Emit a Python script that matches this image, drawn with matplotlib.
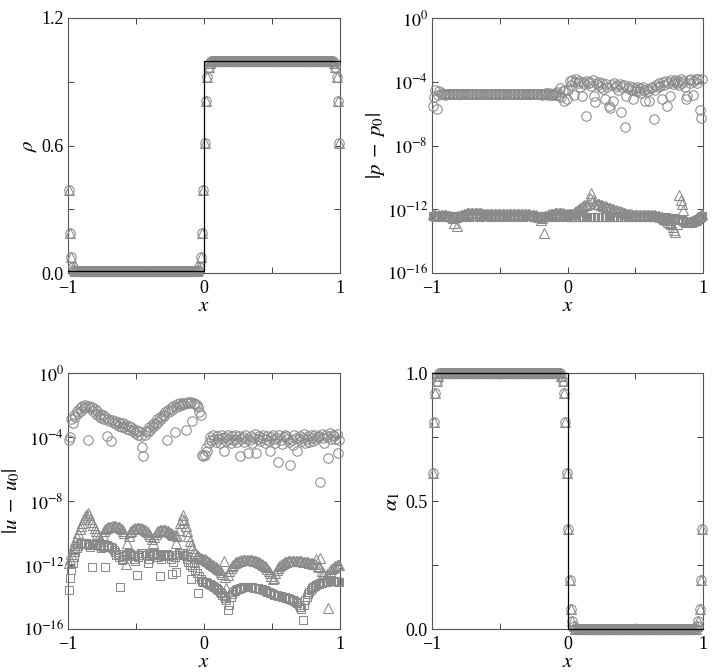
import numpy as np
import matplotlib
matplotlib.use("Agg")
import matplotlib.pyplot as plt

plt.rcParams['font.family'] = ['Liberation Serif', 'DejaVu Serif']
plt.rcParams['mathtext.fontset'] = 'stix'

# ---------------- data ----------------
n_cells = 200
x = np.arange(n_cells) * 0.01 - 0.995          # cell centres on [-1, 1]

# density profile (interface at x=0 and x=+-1, periodic)
rho_lo, rho_hi = 0.01, 1.0
rho_edge_left = [0.39, 0.19, 0.077, 0.03, 0.013]
rho_mid = [0.013, 0.03, 0.077, 0.19, 0.39, 0.61, 0.81, 0.923, 0.97, 0.99]
rho_edge_right = [0.99, 0.97, 0.923, 0.81, 0.61]

# volume fraction profile
alpha_hi, alpha_lo = 1.0, 0.0
alpha_edge_left = [0.61, 0.81, 0.923, 0.97, 0.99]
alpha_mid = [0.99, 0.97, 0.923, 0.81, 0.61, 0.39, 0.19, 0.077, 0.03, 0.01]
alpha_edge_right = [0.01, 0.03, 0.077, 0.19, 0.39]

# exact solution (step)
exact_x = [-1, 0, 0, 1]
exact_rho = [0.01, 0.01, 1.0, 1.0]
exact_alpha = [1.0, 1.0, 0.0, 0.0]

# log10 |p - p0|, circles
p_circ_log = [
    -5.55, -4.95, -4.5, -5.7, -4.85, -4.6, -4.75, -4.7, -4.75, -4.8,
    -4.75, -4.78, -4.74, -4.77, -4.76, -4.77, -4.78, -4.76, -4.77, -4.78,
    -4.77, -4.76, -4.77, -4.78, -4.77, -4.76, -4.77, -4.77, -4.78, -4.77,
    -4.76, -4.77, -4.78, -4.77, -4.76, -4.77, -4.77, -4.78, -4.77, -4.76,
    -4.77, -4.78, -4.77, -4.76, -4.77, -4.77, -4.78, -4.77, -4.76, -4.77,
    -4.78, -4.77, -4.76, -4.77, -4.77, -4.78, -4.77, -4.76, -4.77, -4.78,
    -4.77, -4.76, -4.77, -4.78, -4.77, -4.76, -4.77, -4.77, -4.78, -4.77,
    -4.76, -4.77, -4.78, -4.77, -4.76, -4.77, -4.77, -4.78, -4.77, -4.76,
    -4.75, -4.8, -4.74, -4.78, -4.72, -4.8, -4.7, -4.82, -4.75, -4.8,
    -4.7, -4.85, -4.65, -4.9, -4.4, -4.95, -4.6, -5.23, -4.5, -5.1,
    -4.5, -3.95, -4.2, -3.9, -4.8, -4.0, -3.85, -4.1, -3.95, -4.3,
    -4.9, -4.0, -4.15, -6.17, -3.95, -4.1, -4.0, -4.25, -3.9, -4.9,
    -5.3, -4.05, -4.2, -4.0, -4.3, -4.1, -4.45, -5.1, -4.15, -4.3,
    -5.5, -5.65, -4.2, -5.23, -4.1, -4.35, -4.2, -4.5, -4.15, -5.92,
    -4.3, -4.2, -6.84, -4.9, -4.4, -4.25, -4.5, -4.35, -5.1, -4.45,
    -4.6, -4.3, -4.55, -4.4, -4.7, -4.35, -4.5, -5.2, -4.45, -4.6,
    -5.2, -4.4, -4.3, -6.34, -4.5, -4.2, -4.35, -4.1, -4.25, -5.1,
    -4.0, -4.2, -3.95, -5.55, -4.1, -4.9, -3.9, -4.15, -4.0, -3.9,
    -4.1, -3.95, -4.2, -3.85, -4.05, -3.95, -4.3, -5.1, -4.9, -3.9,
    -4.05, -3.85, -4.8, -3.95, -3.8, -4.1, -3.85, -5.75, -6.27, -3.8,
]

# log10 |p - p0|, triangles
p_tri_log = [
    -12.3, -12.35, -12.38, -12.4, -12.4, -12.38, -12.36, -12.35, -12.35, -12.36,
    -12.38, -12.4, -12.42, -12.45, -12.5, -12.55, -12.86, -12.5, -13.07, -12.45,
    -12.4, -12.36, -12.33, -12.3, -12.28, -12.26, -12.25, -12.24, -12.23, -12.22,
    -12.22, -12.22, -12.22, -12.23, -12.24, -12.25, -12.26, -12.27, -12.28, -12.29,
    -12.3, -12.3, -12.31, -12.31, -12.31, -12.31, -12.3, -12.3, -12.29, -12.29,
    -12.28, -12.28, -12.28, -12.28, -12.28, -12.29, -12.29, -12.3, -12.3, -12.3,
    -12.3, -12.31, -12.31, -12.31, -12.31, -12.31, -12.31, -12.31, -12.31, -12.31,
    -12.32, -12.32, -12.33, -12.34, -12.35, -12.37, -12.39, -12.42, -12.46, -12.5,
    -12.65, -12.55, -13.5, -12.45, -12.4, -12.35, -12.32, -12.3, -12.28, -12.27,
    -12.26, -12.25, -12.25, -12.25, -12.25, -12.25, -12.26, -12.27, -12.28, -12.3,
    -12.3, -12.3, -12.3, -12.28, -12.25, -12.2, -12.14, -12.07, -12.0, -11.93,
    -11.86, -11.8, -11.75, -11.71, -11.68, -11.66, -11.3, -11.0, -11.45, -11.66,
    -11.66, -11.67, -11.68, -11.7, -11.72, -11.74, -11.77, -11.8, -11.83, -11.86,
    -11.9, -11.93, -11.96, -11.99, -12.02, -12.05, -12.08, -12.11, -12.14, -12.17,
    -12.2, -12.23, -12.25, -12.27, -12.29, -12.31, -12.32, -12.33, -12.34, -12.35,
    -12.35, -12.35, -12.35, -12.35, -12.35, -12.35, -12.35, -12.35, -12.35, -12.35,
    -12.35, -12.36, -12.37, -12.38, -12.39, -12.4, -12.42, -12.44, -12.46, -12.5,
    -12.55, -12.6, -12.65, -12.7, -12.78, -12.85, -12.95, -13.1, -13.3, -13.45,
    -12.9, -12.6, -11.1, -11.4, -11.7, -12.05, -12.7, -12.75, -12.78, -12.8,
    -12.8, -12.78, -12.75, -12.7, -12.65, -12.58, -12.5, -12.42, -12.35, -12.3,
]

# log10 |p - p0|, squares
p_sq_log = [
    -12.44, -12.45, -12.46, -12.46, -12.45, -12.45, -12.44, -12.44, -12.45, -12.45,
    -12.46, -12.46, -12.45, -12.45, -12.44, -12.44, -12.45, -12.45, -12.46, -12.46,
    -12.45, -12.45, -12.44, -12.44, -12.45, -12.45, -12.46, -12.46, -12.45, -12.45,
    -12.44, -12.44, -12.45, -12.45, -12.46, -12.46, -12.45, -12.45, -12.44, -12.44,
    -12.45, -12.45, -12.46, -12.46, -12.45, -12.45, -12.44, -12.44, -12.45, -12.45,
    -12.46, -12.46, -12.45, -12.45, -12.44, -12.44, -12.45, -12.45, -12.46, -12.46,
    -12.45, -12.45, -12.44, -12.44, -12.45, -12.45, -12.46, -12.46, -12.45, -12.45,
    -12.44, -12.44, -12.45, -12.45, -12.46, -12.46, -12.45, -12.45, -12.44, -12.44,
    -12.45, -12.45, -12.46, -12.46, -12.45, -12.45, -12.44, -12.44, -12.45, -12.45,
    -12.46, -12.46, -12.45, -12.45, -12.44, -12.44, -12.45, -12.45, -12.46, -12.46,
    -12.47, -12.47, -12.48, -12.48, -12.48, -12.48, -12.48, -12.48, -12.48, -12.48,
    -12.48, -12.48, -12.48, -12.48, -12.48, -12.48, -12.48, -12.48, -12.48, -12.48,
    -12.48, -12.48, -12.48, -12.48, -12.48, -12.48, -12.48, -12.48, -12.48, -12.48,
    -12.48, -12.48, -12.48, -12.48, -12.48, -12.48, -12.48, -12.48, -12.48, -12.48,
    -12.48, -12.48, -12.48, -12.48, -12.48, -12.48, -12.47, -12.47, -12.47, -12.47,
    -12.46, -12.46, -12.46, -12.46, -12.46, -12.46, -12.46, -12.46, -12.46, -12.46,
    -12.46, -12.46, -12.46, -12.46, -12.46, -12.47, -12.47, -12.48, -12.48, -12.49,
    -12.5, -12.5, -12.51, -12.52, -12.53, -12.54, -12.55, -12.56, -12.58, -12.6,
    -12.62, -12.64, -12.66, -12.68, -12.7, -12.74, -12.78, -12.8, -12.8, -12.8,
    -12.8, -12.78, -12.76, -12.73, -12.7, -12.66, -12.6, -12.53, -12.46, -12.4,
]

# log10 |u - u0|, circles
u_circ_log = [
    -4.17, -3.97, -2.9, -3.1, -2.6, -2.75, -2.4, -2.5, -2.2, -2.35,
    -2.05, -2.2, -2.0, -2.1, -4.17, -2.05, -2.2, -2.1, -2.4, -2.25,
    -2.55, -2.4, -2.7, -2.55, -2.8, -2.65, -2.9, -2.75, -3.96, -2.85,
    -3.0, -4.27, -2.95, -3.15, -3.0, -3.2, -3.05, -3.3, -3.1, -3.35,
    -3.15, -3.4, -3.25, -3.5, -3.3, -3.55, -3.4, -3.65, -3.5, -3.75,
    -3.6, -3.85, -3.65, -3.95, -4.6, -5.2, -3.9, -3.6, -3.7, -3.4,
    -3.55, -3.25, -3.4, -3.1, -3.2, -2.9, -3.05, -2.75, -2.85, -2.6,
    -2.7, -2.45, -4.17, -2.3, -2.45, -2.2, -2.3, -2.05, -3.7, -2.15,
    -1.95, -2.05, -1.9, -2.0, -1.85, -1.95, -3.54, -1.85, -1.8, -1.9,
    -1.82, -3.0, -1.88, -1.95, -2.0, -2.15, -2.45, -2.6, -5.1, -5.2,
    -5.15, -4.7, -4.9, -4.4, -4.0, -4.2, -3.9, -4.1, -4.3, -3.95,
    -4.15, -4.35, -3.85, -4.05, -4.9, -4.0, -4.25, -3.9, -4.1, -4.4,
    -3.95, -4.2, -3.85, -4.1, -4.3, -3.95, -5.2, -4.15, -4.0, -4.3,
    -3.9, -4.1, -4.98, -4.2, -3.95, -4.35, -4.05, -3.8, -4.98, -4.15,
    -3.95, -4.25, -4.05, -3.9, -4.4, -4.1, -3.95, -4.25, -4.9, -4.0,
    -3.9, -4.15, -4.35, -4.05, -5.58, -3.85, -4.2, -4.45, -4.0, -3.9,
    -3.95, -4.1, -4.3, -5.73, -4.2, -4.5, -3.85, -4.05, -4.9, -4.15,
    -3.95, -4.25, -4.05, -3.8, -4.4, -4.1, -3.95, -4.3, -3.85, -4.05,
    -4.25, -3.9, -4.1, -4.0, -3.95, -6.83, -3.8, -4.05, -4.35, -3.9,
    -4.0, -5.3, -3.75, -4.15, -3.85, -3.95, -4.1, -3.8, -5.0, -4.2,
]

# log10 |u - u0|, triangles
u_tri_log = [
    -11.9, -11.6, -11.3, -11.0, -10.75, -10.5, -10.25, -10.0, -9.75, -9.55,
    -9.35, -9.15, -9.0, -8.85, -8.75, -8.9, -9.1, -9.3, -9.5, -9.7,
    -9.9, -10.05, -10.2, -10.35, -10.5, -10.1, -9.9, -9.78, -9.7, -9.65,
    -9.62, -9.6, -9.58, -9.58, -9.58, -9.6, -9.62, -9.65, -9.7, -9.78,
    -9.88, -10.0, -11.95, -10.6, -10.2, -9.95, -9.85, -9.77, -9.72, -9.7,
    -9.69, -9.69, -9.69, -9.7, -9.72, -9.75, -9.8, -9.87, -9.95, -10.05,
    -10.2, -10.4, -10.65, -10.25, -10.05, -9.95, -9.88, -9.83, -9.8, -9.8,
    -9.8, -9.82, -9.85, -9.9, -9.95, -10.0, -10.05, -10.1, -10.15, -10.6,
    -10.2, -9.8, -9.4, -9.1, -8.85, -9.2, -9.55, -9.9, -10.2, -10.5,
    -10.75, -10.95, -11.1, -11.25, -11.4, -11.45, -11.5, -11.55, -11.6, -11.6,
    -11.62, -11.68, -11.75, -11.8, -11.87, -11.93, -12.0, -12.06, -12.12, -12.19,
    -12.25, -12.33, -12.42, -12.55, -11.77, -12.75, -13.44, -12.6, -12.35, -12.2,
    -12.08, -11.98, -11.9, -11.84, -11.79, -11.75, -11.72, -11.7, -11.68, -11.67,
    -11.67, -11.67, -11.67, -11.68, -11.69, -11.7, -11.72, -11.74, -11.77, -11.8,
    -11.84, -11.88, -11.93, -11.99, -12.06, -12.14, -12.24, -12.36, -12.5, -12.68,
    -12.9, -12.8, -12.5, -12.3, -12.16, -12.05, -11.97, -11.91, -11.86, -11.82,
    -11.8, -11.78, -11.77, -11.77, -11.77, -11.77, -11.77, -11.77, -11.77, -11.77,
    -11.78, -11.78, -11.79, -11.8, -11.81, -11.82, -11.84, -11.86, -11.88, -11.9,
    -11.92, -11.95, -11.6, -12.05, -12.15, -11.56, -12.35, -12.5, -12.65, -12.75,
    -12.55, -14.7, -12.35, -12.25, -12.17, -12.1, -12.05, -12.02, -12.0, -11.98,
]

# log10 |u - u0|, squares
u_sq_log = [
    -13.57, -12.84, -12.3, -11.9, -11.5, -11.2, -10.95, -10.8, -10.7, -10.65,
    -10.62, -10.6, -10.62, -10.65, -10.7, -10.78, -10.9, -12.1, -10.75, -10.68,
    -10.66, -10.68, -10.72, -10.8, -10.95, -10.85, -10.8, -12.1, -10.78, -10.8,
    -10.85, -10.9, -10.95, -11.05, -11.2, -11.4, -11.3, -11.5, -13.36, -11.7,
    -11.6, -11.45, -11.35, -11.3, -11.28, -11.3, -11.35, -11.45, -11.6, -11.75,
    -12.63, -11.5, -11.35, -11.28, -11.25, -11.25, -11.28, -11.35, -11.9, -11.6,
    -11.45, -11.35, -11.3, -11.28, -11.3, -11.38, -11.5, -12.67, -11.65, -11.45,
    -11.35, -11.3, -11.3, -11.35, -11.45, -11.6, -12.55, -11.8, -11.5, -12.45,
    -11.35, -11.28, -11.25, -11.25, -11.28, -11.35, -11.45, -11.6, -11.8, -12.0,
    -12.9, -12.1, -11.9, -12.3, -12.5, -13.75, -12.7, -12.9, -13.0, -13.05,
    -13.05, -13.08, -13.12, -13.16, -13.2, -13.25, -13.3, -13.36, -13.42, -13.5,
    -13.58, -13.66, -13.75, -13.85, -13.95, -14.05, -14.2, -14.8, -14.5, -14.0,
    -13.8, -13.7, -13.62, -13.56, -13.51, -13.47, -13.44, -13.42, -13.4, -13.39,
    -13.38, -13.38, -13.38, -13.38, -13.39, -13.4, -13.41, -13.42, -13.44, -13.46,
    -13.48, -13.5, -13.53, -13.56, -13.59, -13.62, -13.66, -13.7, -13.74, -13.78,
    -13.82, -13.85, -13.88, -13.9, -13.92, -13.94, -13.96, -13.98, -14.0, -14.02,
    -14.04, -14.07, -14.1, -14.13, -14.17, -14.21, -14.26, -14.32, -14.4, -14.5,
    -14.62, -14.75, -15.45, -14.5, -14.2, -13.98, -13.8, -13.66, -13.55, -13.46,
    -13.38, -13.31, -13.25, -13.2, -13.16, -13.13, -13.1, -13.08, -13.06, -13.05,
    -13.04, -13.03, -13.02, -13.02, -13.02, -13.02, -13.02, -13.03, -13.04, -13.05,
]

# tick labels
x_ticks = [-1, -0.5, 0, 0.5, 1]
x_ticklabels = ['\u22121', '', '0', '', '1']
rho_ticks = [0, 0.3, 0.6, 0.9, 1.2]
rho_ticklabels = ['0.0', '', '0.6', '', '1.2']
alpha_ticks = [0, 0.25, 0.5, 0.75, 1.0]
alpha_ticklabels = ['0.0', '', '0.5', '', '1.0']
log_ticks = [1e-16, 1e-12, 1e-8, 1e-4, 1e0]
log_ticklabels = [r'$10^{-16}$', r'$10^{-12}$', r'$10^{-8}$', r'$10^{-4}$', r'$10^{0}$']

# ---------------- build profiles ----------------
rho = np.array(rho_edge_left + [rho_lo] * 90 + rho_mid + [rho_hi] * 90 + rho_edge_right)
alpha = np.array(alpha_edge_left + [alpha_hi] * 90 + alpha_mid + [alpha_lo] * 90 + alpha_edge_right)

# ---------------- figure ----------------
fig = plt.figure(figsize=(7.14, 6.72), dpi=100)
W, H = 714, 672

def axes_px(l, r, t, b):
    return fig.add_axes([l / W, 1 - b / H, (r - l) / W, (b - t) / H])

ax1 = axes_px(68, 340, 18, 273)
ax2 = axes_px(432, 703, 18, 273)
ax3 = axes_px(68, 340, 373, 629)
ax4 = axes_px(432, 703, 373, 629)

gray = '#8a8a8a'
ms_c, ms_t, ms_s = 6.8, 7.4, 5.6
mew = 0.75
tick_fs = 13
lab_fs = 15

def mk(ax, y, marker, ms):
    ax.plot(x, y, linestyle='none', marker=marker, ms=ms, mfc='none',
            mec=gray, mew=mew, clip_on=False, zorder=3)

def style(ax):
    ax.set_xlim(-1, 1)
    ax.set_xticks(x_ticks)
    ax.set_xticklabels(x_ticklabels)
    ax.tick_params(direction='in', length=4, width=0.7, top=True, right=True,
                   labelsize=tick_fs, color='#444444')
    ax.tick_params(axis='x', pad=5)
    ax.tick_params(axis='y', pad=3)
    ax.minorticks_off()
    for s in ax.spines.values():
        s.set_color('#555555')
        s.set_linewidth(0.8)
    ax.set_xlabel(r'$x$', fontsize=lab_fs, labelpad=0)

# rho
mk(ax1, rho, 'o', ms_c)
mk(ax1, rho, '^', ms_t)
ax1.plot(exact_x, exact_rho, color='black', lw=0.9, zorder=4, clip_on=False)
ax1.set_ylim(0, 1.2)
ax1.set_yticks(rho_ticks)
ax1.set_yticklabels(rho_ticklabels)
style(ax1)
ax1.set_ylabel(r'$\rho$', fontsize=lab_fs, labelpad=2)

# pressure error
ax2.set_yscale('log')
mk(ax2, 10.0 ** np.array(p_circ_log), 'o', ms_c)
mk(ax2, 10.0 ** np.array(p_tri_log), '^', ms_t)
mk(ax2, 10.0 ** np.array(p_sq_log), 's', ms_s)
ax2.set_ylim(1e-16, 1e0)
ax2.set_yticks(log_ticks)
ax2.set_yticklabels(log_ticklabels)
style(ax2)
ax2.set_ylabel(r'$|p\;-\;p_0|$', fontsize=lab_fs, labelpad=0)

# velocity error
ax3.set_yscale('log')
mk(ax3, 10.0 ** np.array(u_circ_log), 'o', ms_c)
mk(ax3, 10.0 ** np.array(u_tri_log), '^', ms_t)
mk(ax3, 10.0 ** np.array(u_sq_log), 's', ms_s)
ax3.set_ylim(1e-16, 1e0)
ax3.set_yticks(log_ticks)
ax3.set_yticklabels(log_ticklabels)
style(ax3)
ax3.set_ylabel(r'$|u\;-\;u_0|$', fontsize=lab_fs, labelpad=0)

# volume fraction
mk(ax4, alpha, 'o', ms_c)
mk(ax4, alpha, '^', ms_t)
ax4.plot(exact_x, exact_alpha, color='black', lw=0.9, zorder=4, clip_on=False)
ax4.set_ylim(0, 1.0)
ax4.set_yticks(alpha_ticks)
ax4.set_yticklabels(alpha_ticklabels)
style(ax4)
ax4.set_ylabel(r'$\alpha_1$', fontsize=lab_fs, labelpad=2)

fig.savefig('out.png', dpi=100)
